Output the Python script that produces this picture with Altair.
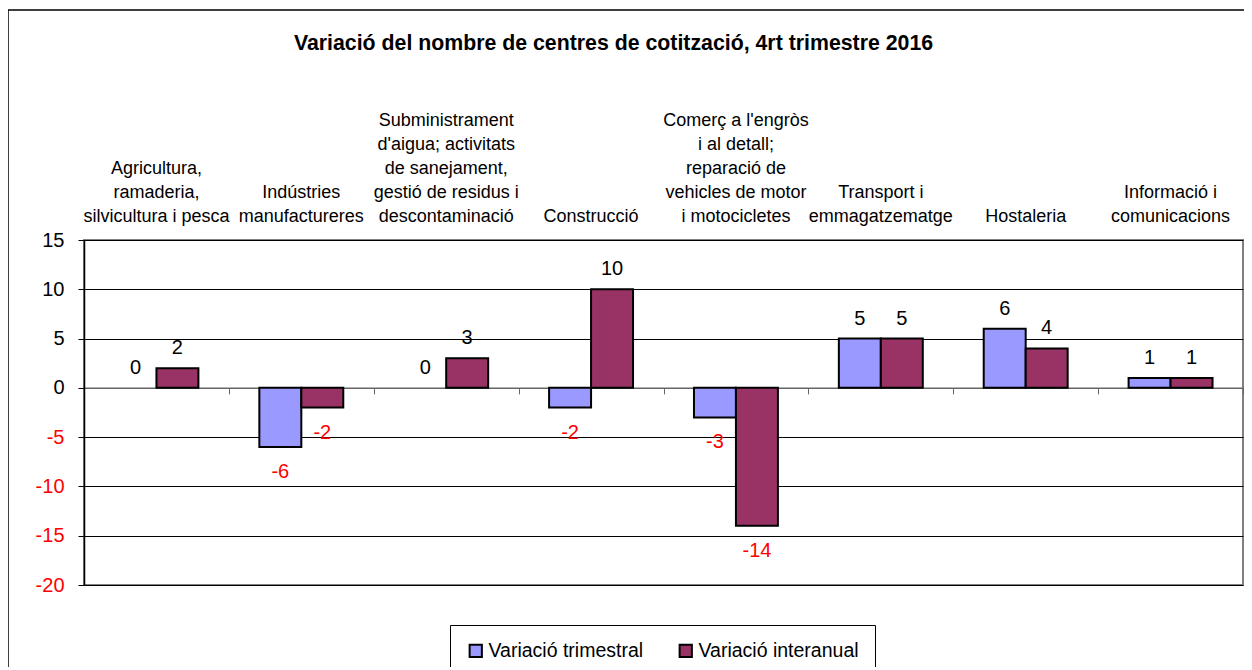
import altair as alt
import pandas as pd

categories = [
    "Agricultura,\nramaderia,\nsilvicultura i pesca",
    "Indústries\nmanufactureres",
    "Subministrament\nd'aigua; activitats\nde sanejament,\ngestió de residus i\ndescontaminació",
    "Construcció",
    "Comerç a l'engròs\ni al detall;\nreparació de\nvehicles de motor\ni motocicletes",
    "Transport i\nemmagatzematge",
    "Hostaleria",
    "Informació i\ncomunicacions",
]
series = ["Variació trimestral", "Variació interanual"]
trimestral = [0, -6, 0, -2, -3, 5, 6, 1]
interanual = [2, -2, 3, 10, -14, 5, 4, 1]
y_ticks = [15, 10, 5, 0, -5, -10, -15, -20]

rows = []
for c, t, i in zip(categories, trimestral, interanual):
    rows.append({"cat": c, "serie": series[0], "v": t})
    rows.append({"cat": c, "serie": series[1], "v": i})
df = pd.DataFrame(rows)

# category label lines, counted from the bottom line upwards
lab_rows = []
for c in categories:
    for k, line in enumerate(reversed(c.split("\n"))):
        lab_rows.append({"cat": c, "line": line, "k": k})
labels_df = pd.DataFrame(lab_rows)

W, H = 1159, 345
FONT = "Liberation Sans"

yscale = alt.Scale(domain=[-20, 15], nice=False, zero=False)
yaxis = alt.Axis(values=y_ticks, title=None, grid=True, gridColor="black", gridWidth=1,
                 domainColor="black", domainWidth=1.5, tickColor="black", tickSize=6,
                 labelFontSize=20, labelPadding=14, labelExpr="datum.value + ''",
                 labelColor=alt.condition("datum.value < 0", alt.value("#ff0000"), alt.value("black")))
xscale = alt.Scale(paddingInner=0, paddingOuter=0)
xoff = alt.XOffset("serie:N", sort=series, scale=alt.Scale(paddingInner=0, paddingOuter=0.726))

axis_bottom = alt.Axis(orient="bottom", offset=-(H - H * 15 / 35), labels=False, title=None,
                       domain=True, domainColor="#666666", domainWidth=1.5,
                       ticks=True, tickBand="extent", tickSize=6, tickColor="#666666", grid=False)

base = alt.Chart(df).transform_calculate(lab="datum.v + ''")

bars = base.transform_filter("datum.v != 0").mark_bar(stroke="black", strokeWidth=2).encode(
    x=alt.X("cat:N", sort=categories, scale=xscale, axis=axis_bottom),
    xOffset=xoff,
    y=alt.Y("v:Q", scale=yscale, axis=yaxis),
    color=alt.Color("serie:N", sort=series,
                    scale=alt.Scale(domain=series, range=["#9999ff", "#993366"]),
                    legend=alt.Legend(orient="none", legendX=366, legendY=385,
                                      direction="horizontal", title=None,
                                      strokeColor="black", fillColor="white", padding=16,
                                      symbolType="square", symbolSize=150,
                                      symbolStrokeColor="black", symbolStrokeWidth=2,
                                      labelFontSize=19.5, labelFont=FONT, labelOffset=3,
                                      labelLimit=400, columnPadding=31)),
)

pos = base.transform_filter("datum.v >= 0").mark_text(
    baseline="alphabetic", dy=-14, fontSize=20, color="black").encode(
    x=alt.X("cat:N", sort=categories, scale=xscale, axis=None),
    xOffset=xoff,
    y=alt.Y("v:Q", scale=yscale, axis=None),
    text=alt.Text("lab:N"),
)

neg = base.transform_filter("datum.v < 0").mark_text(
    baseline="top", dy=15, fontSize=20, color="#ff0000").encode(
    x=alt.X("cat:N", sort=categories, scale=xscale, axis=None),
    xOffset=xoff,
    y=alt.Y("v:Q", scale=yscale, axis=None),
    text=alt.Text("lab:N"),
)

cat_labels = alt.Chart(labels_df).mark_text(
    baseline="alphabetic", align="center", fontSize=18, color="black").encode(
    x=alt.X("cat:N", sort=categories, scale=xscale, axis=None),
    y=alt.Y("k:Q", scale=alt.Scale(domain=[0, 4], range=[-18, -114]), axis=None),
    text=alt.Text("line:N"),
)

frame = alt.Chart(pd.DataFrame({"a": [0]})).mark_rect(
    fillOpacity=0, stroke="black", strokeWidth=1.5).encode(
    x=alt.value(-76), x2=alt.value(1300), y=alt.value(-230), y2=alt.value(600))

chart = alt.layer(bars, pos, neg, cat_labels, frame).resolve_scale(y="independent").resolve_axis(
    x="independent").properties(
    width=W, height=H,
    autosize=alt.AutoSizeParams(type="none"),
    padding={"left": 76, "top": 232, "right": 1, "bottom": 82},
    title=alt.Title("Variació del nombre de centres de cotització, 4rt trimestre 2016",
                    fontSize=21.3, fontWeight="bold", font=FONT, anchor="middle",
                    baseline="alphabetic", dx=-50, dy=62, offset=0, color="black"),
).configure(font=FONT).configure_view(stroke="#808080", strokeWidth=2).configure_axis(
    labelFont=FONT)

chart.save("out.html", embed_options={"renderer": "svg", "actions": False})
